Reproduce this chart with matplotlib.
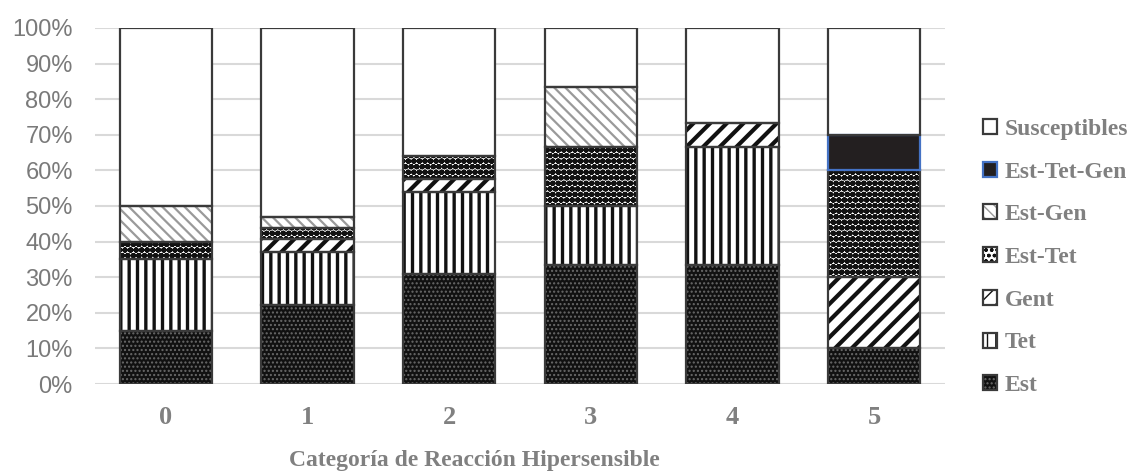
import matplotlib
matplotlib.use("Agg")
import matplotlib.pyplot as plt
from matplotlib.patches import Patch
from matplotlib.legend_handler import HandlerTuple
import numpy as np

categories = ["0", "1", "2", "3", "4", "5"]
series_names = ["Est", "Tet", "Gent", "Est-Tet", "Est-Gen", "Est-Tet-Gen", "Susceptibles"]
est = [15.0, 22.2, 30.8, 33.3, 33.3, 10.0]
tet = [20.0, 14.8, 23.1, 16.7, 33.3, 0.0]
gent = [0.0, 3.7, 3.8, 0.0, 6.7, 20.0]
est_tet = [5.0, 3.0, 6.3, 16.7, 0.0, 30.0]
est_gen = [10.0, 3.3, 0.0, 16.7, 0.0, 0.0]
est_tet_gen = [0.0, 0.0, 0.0, 0.0, 0.0, 10.0]
susceptibles = [50.0, 53.0, 36.0, 16.6, 26.7, 30.0]
y_ticks = [0, 10, 20, 30, 40, 50, 60, 70, 80, 90, 100]
x_label = "Categoría de Reacción Hipersensible"

values = [est, tet, gent, est_tet, est_gen, est_tet_gen, susceptibles]
# style: (face, hatch, hatch colour, hatch lw, outline colour)
styles = [
    ("#111111", "....", "#6a6a6a", 1.0, "#3a3a3a"),
    ("white", "||", "#111111", 2.4, "#3a3a3a"),
    ("white", "//", "#111111", 3.0, "#3a3a3a"),
    ("white", "ooo", "#111111", 2.2, "#3a3a3a"),
    ("white", "\\\\\\", "#9a9a9a", 1.6, "#3a3a3a"),
    ("#231f20", None, "#231f20", 1.0, "#4472C4"),
    ("white", None, "white", 1.0, "#3a3a3a"),
]

fig = plt.figure(figsize=(11.47, 4.73), dpi=100)
ax = fig.add_axes([95/1147, 1-384/473, (945-95)/1147, (384-28)/473])

x = np.arange(len(categories))
width = 0.65
bottom = np.zeros(len(categories))
handles = []
for name, vals, (face, hatch, hcol, hlw, ocol) in zip(series_names, values, styles):
    vals = np.array(vals)
    bars = ax.bar(x, vals, width, bottom=bottom, color=face, edgecolor=hcol,
                  hatch=hatch, linewidth=0, zorder=3)
    for b in bars:
        if hasattr(b, "set_hatch_linewidth"):
            b.set_hatch_linewidth(hlw)
    mask = vals > 0
    ax.bar(x[mask], vals[mask], width, bottom=bottom[mask], fill=False,
           edgecolor=ocol, linewidth=1.6, zorder=4)
    bottom += vals
    hp = Patch(facecolor=face, edgecolor=hcol, hatch=hatch, linewidth=0)
    if hasattr(hp, "set_hatch_linewidth"):
        hp.set_hatch_linewidth(min(hlw, 1.2))
    op = Patch(fill=False, edgecolor=ocol, linewidth=1.6)
    handles.append(((hp, op), name))

ax.set_xlim(-0.5, len(categories) - 0.5)
ax.set_ylim(0, 100)
ax.set_yticks(y_ticks)
ax.set_yticklabels([f"{t}%" for t in y_ticks], fontsize=17, color="#7a7a7a",
                   family="Liberation Sans")
ax.set_xticks(x)
ax.set_xticklabels(categories, fontsize=19, color="#808080",
                   family="Liberation Serif", fontweight="bold")
ax.tick_params(axis="both", length=0)
ax.tick_params(axis="y", pad=16)
ax.tick_params(axis="x", pad=16)
ax.yaxis.grid(True, color="#d9d9d9", linewidth=1.5, zorder=0)
ax.set_axisbelow(True)
for s in ["top", "right", "bottom", "left"]:
    ax.spines[s].set_visible(False)

ax.set_xlabel(x_label, fontsize=17, color="#808080", family="Liberation Serif",
              fontweight="bold")
ax.xaxis.set_label_coords((474-95)/850, -0.215)
ax.xaxis.label.set_va("center")

hs = [h for h, n in handles][::-1]
ns = [n for h, n in handles][::-1]
leg = fig.legend(hs, ns, loc="center left", bbox_to_anchor=(962/1147, 1-257.5/473),
                 frameon=False, handler_map={tuple: HandlerTuple(ndivide=1)},
                 handlelength=0.6, handleheight=0.6, handletextpad=0.3,
                 labelspacing=0.92,
                 prop={"family": "Liberation Serif", "weight": "bold", "size": 17})
for t in leg.get_texts():
    t.set_color("#808080")

fig.savefig("out.png", dpi=100)
